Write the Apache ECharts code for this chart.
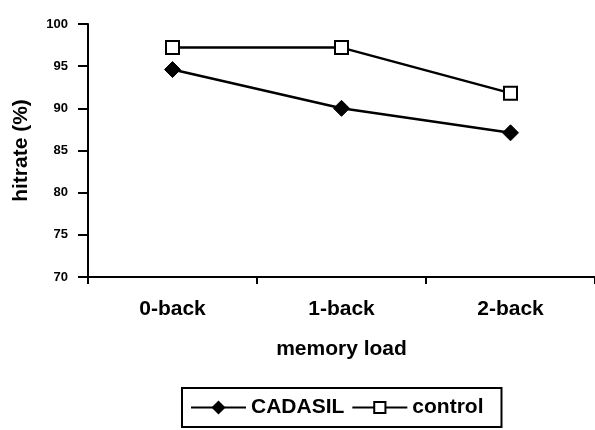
<!DOCTYPE html>
<html>
<head>
<meta charset="utf-8">
<script src="https://cdn.jsdelivr.net/npm/echarts@6/dist/echarts.min.js"></script>
<style>
    html, body { margin: 0; padding: 0; background: #fff; }
    #chart { width: 595px; height: 430px; }
</style>
</head>
<body>
<div id="chart"></div>
<script>
const categories = ['0-back', '1-back', '2-back'];
const cadasil = [94.6, 90.0, 87.1];
const control = [97.2, 97.2, 91.8];
const yTicks = {min: 70, max: 100, interval: 5};

const font = 'Liberation Sans, Arial, sans-serif';
const black = '#000';
const bigText = {fontFamily: font, fontWeight: 'bold', fontSize: 21, color: black};

const chart = echarts.init(document.getElementById('chart'), null, {renderer: 'canvas'});

chart.setOption({
    animation: false,
    textStyle: {fontFamily: font, color: black},
    grid: {left: 88, top: 24, right: -3, bottom: 153, containLabel: false},
    legend: {
        left: 182,
        top: 388,
        padding: [9, 18, 9, 8],
        borderColor: black,
        borderWidth: 2,
        itemWidth: 55,
        itemHeight: 14,
        itemGap: 7,
        textStyle: bigText,
        data: ['CADASIL', 'control']
    },
    xAxis: {
        type: 'category',
        data: categories,
        boundaryGap: true,
        name: 'memory load',
        nameLocation: 'middle',
        nameGap: 62,
        nameTextStyle: bigText,
        axisLine: {lineStyle: {color: black, width: 2}},
        axisTick: {show: true, length: 7, lineStyle: {color: black, width: 2}},
        axisLabel: Object.assign({margin: 22}, bigText),
        splitLine: {show: false}
    },
    yAxis: {
        type: 'value',
        min: yTicks.min,
        max: yTicks.max,
        interval: yTicks.interval,
        name: 'hitrate (%)',
        nameLocation: 'middle',
        nameRotate: 90,
        nameGap: 56,
        nameTextStyle: bigText,
        axisLine: {show: true, lineStyle: {color: black, width: 2}},
        axisTick: {show: true, length: 10, lineStyle: {color: black, width: 2}},
        axisLabel: {fontFamily: font, fontWeight: 'bold', fontSize: 13, color: black, margin: 20},
        splitLine: {show: false}
    },
    series: [
        {
            name: 'CADASIL',
            type: 'line',
            data: cadasil,
            symbol: 'diamond',
            symbolSize: 16,
            lineStyle: {color: black, width: 2.5},
            itemStyle: {color: black, borderColor: black, borderWidth: 1}
        },
        {
            name: 'control',
            type: 'line',
            data: control,
            symbol: 'rect',
            symbolSize: 13,
            lineStyle: {color: black, width: 2.5},
            itemStyle: {color: '#fff', borderColor: black, borderWidth: 2}
        }
    ]
});
</script>
</body>
</html>
